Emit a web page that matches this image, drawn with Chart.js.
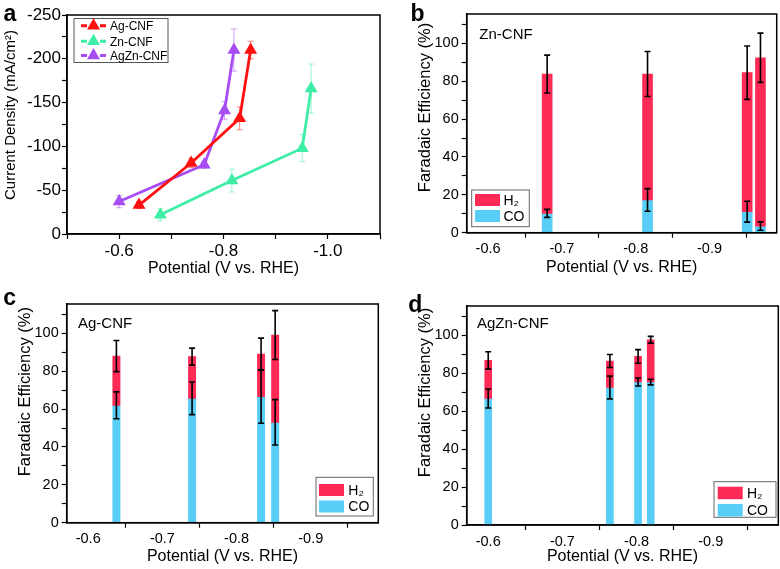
<!DOCTYPE html>
<html><head><meta charset="utf-8">
<script src="https://cdn.jsdelivr.net/npm/chart.js@4.4.0/dist/chart.umd.min.js"></script>
<style>
html,body{margin:0;padding:0;background:#fff;}
#wrap{position:relative;width:780px;height:569px;overflow:hidden;}
canvas{position:absolute;}
</style></head><body>
<div id="wrap">
<canvas id="ca" width="390" height="280" style="left:0;top:0"></canvas>
<canvas id="cb" width="390" height="280" style="left:390px;top:0"></canvas>
<canvas id="cc" width="390" height="289" style="left:0;top:280px"></canvas>
<canvas id="cd" width="390" height="289" style="left:390px;top:280px"></canvas>
</div>
<script>
// ---------- Panel a: current density ----------
const aSeries = ['Ag-CNF', 'Zn-CNF', 'AgZn-CNF'];
const agPotential = [-0.638, -0.738, -0.831, -0.852];
const agCurrent = [-33, -81, -132, -210];
const agCurrentErr = [4, 5, 13, 10];
const znPotential = [-0.679, -0.816, -0.951, -0.968];
const znCurrent = [-22, -61, -98, -166];
const znCurrentErr = [7, 13, 15.5, 28];
const agznPotential = [-0.600, -0.763, -0.802, -0.820];
const agznCurrent = [-37, -79, -141, -210];
const agznCurrentErr = [7, 4, 10, 24];
const aXTicks = [-1.1, -1.0, -0.9, -0.8, -0.7, -0.6, -0.5];
const aXLabels = [-1.0, -0.8, -0.6];
const aYTicks = [-250, -225, -200, -175, -150, -125, -100, -75, -50, -25, 0];
const aYLabels = [-250, -200, -150, -100, -50, 0];

// ---------- Panels b-d: Faradaic efficiency ----------
const feLabels = ['H₂', 'CO'];
const feXTicks = [-0.9, -0.8, -0.7, -0.6];
const feYTicks = [0, 10, 20, 30, 40, 50, 60, 70, 80, 90, 100, 110];
const feYLabels = [0, 20, 40, 60, 80, 100];

const znPot = [-0.680, -0.816, -0.951, -0.969];
const znCO = [10.2, 17.3, 11.1, 3.5];
const znCOErr = [2.1, 6, 5.5, 2.2];
const znH2 = [73.6, 66.5, 73.4, 88.9];
const znTotalErr = [10, 11.9, 14.1, 13];

const agPot = [-0.638, -0.740, -0.833, -0.852];
const agCO = [62, 65.7, 66.5, 53];
const agCOErr = [7.1, 8.6, 14, 12];
const agH2 = [26, 22, 22.6, 46.1];
const agTotalErr = [8.2, 4.5, 8.4, 12.9];

const agznPot = [-0.600, -0.764, -0.802, -0.819];
const agznCO = [66.7, 72.5, 75.4, 75.4];
const agznCOErr = [5, 6, 2.1, 1.5];
const agznH2 = [20.1, 14, 13.5, 22.3];
const agznTotalErr = [4.6, 3.4, 3.6, 1.8];

// ---------- styling ----------
const FONT = '"Liberation Sans", Arial, Helvetica, sans-serif';
Chart.defaults.font.family = FONT;
Chart.defaults.color = '#000';
const RED = '#ff1010', GREEN = '#3eeea6', PURPLE = '#a64cf2';
const H2C = '#ff2a55', COC = '#57cdf7';

const framePlugin = {
  id: 'frame',
  afterDraw(chart) {
    const {ctx, chartArea: c} = chart;
    ctx.save(); ctx.strokeStyle = '#000'; ctx.lineWidth = 1.5;
    ctx.strokeRect(c.left, c.top, c.right - c.left, c.bottom - c.top);
    ctx.restore();
  }
};
const textPlugin = {
  id: 'ptext',
  afterDraw(chart, args, opts) {
    const ctx = chart.ctx;
    (opts.items || []).forEach(t => {
      ctx.save(); ctx.fillStyle = '#000'; ctx.font = t.font;
      if (t.rotate) {
        ctx.translate(t.x, t.y); ctx.rotate(-Math.PI / 2);
        ctx.textBaseline = 'middle'; ctx.textAlign = 'center';
        ctx.fillText(t.text, 0, 0);
      } else {
        ctx.textBaseline = 'alphabetic'; ctx.textAlign = 'left';
        ctx.fillText(t.text, t.x, t.y);
      }
      ctx.restore();
    });
  }
};
const errPlugin = {
  id: 'errbars',
  beforeDatasetsDraw(chart, args, opts) { if (opts.under) drawErr(chart, opts); },
  afterDatasetsDraw(chart, args, opts) { if (!opts.under) drawErr(chart, opts); }
};
function drawErr(chart, opts) {
  const ctx = chart.ctx, xs = chart.scales.x, ys = chart.scales.y;
  (opts.sets || []).forEach(s => {
    ctx.save(); ctx.strokeStyle = s.color; ctx.lineWidth = s.width;
    s.x.forEach((xv, i) => {
      const px = xs.getPixelForValue(xv);
      const y1 = ys.getPixelForValue(s.y[i] - s.err[i]);
      const y2 = ys.getPixelForValue(s.y[i] + s.err[i]);
      ctx.beginPath();
      ctx.moveTo(px, y1); ctx.lineTo(px, y2);
      ctx.moveTo(px - s.cap, y1); ctx.lineTo(px + s.cap, y1);
      ctx.moveTo(px - s.cap, y2); ctx.lineTo(px + s.cap, y2);
      ctx.stroke();
    });
    ctx.restore();
  });
}
const lineLegendPlugin = {
  id: 'lineLegend',
  afterDraw(chart, args, opts) {
    if (!opts.box) return;
    const ctx = chart.ctx, b = opts.box;
    ctx.save();
    ctx.fillStyle = '#fff'; ctx.fillRect(b.x, b.y, b.w, b.h);
    ctx.strokeStyle = '#555'; ctx.lineWidth = 1; ctx.strokeRect(b.x, b.y, b.w, b.h);
    chart.data.datasets.forEach((ds, i) => {
      const y = opts.rows[i];
      ctx.strokeStyle = ds.borderColor; ctx.lineWidth = 3;
      ctx.beginPath(); ctx.moveTo(opts.x0, y); ctx.lineTo(opts.x0 + 6, y);
      ctx.moveTo(opts.x1 - 6, y); ctx.lineTo(opts.x1, y); ctx.stroke();
      const cx = (opts.x0 + opts.x1) / 2, r = 7.5;
      ctx.fillStyle = ds.backgroundColor; ctx.beginPath();
      ctx.moveTo(cx, y - r); ctx.lineTo(cx + r * 0.866, y + r / 2); ctx.lineTo(cx - r * 0.866, y + r / 2);
      ctx.closePath(); ctx.fill();
      ctx.fillStyle = '#000'; ctx.font = '12px ' + FONT; ctx.textBaseline = 'middle';
      ctx.fillText(ds.label, opts.tx, y + 1);
    });
    ctx.restore();
  }
};
const barLegendPlugin = {
  id: 'barLegend',
  afterDraw(chart, args, opts) {
    if (!opts.box) return;
    const ctx = chart.ctx, b = opts.box;
    ctx.save();
    ctx.fillStyle = '#fff'; ctx.fillRect(b.x, b.y, b.w, b.h);
    ctx.strokeStyle = '#666'; ctx.lineWidth = 1; ctx.strokeRect(b.x, b.y, b.w, b.h);
    opts.rows.forEach((r, i) => {
      const ds = chart.data.datasets[r.ds];
      ctx.fillStyle = ds.backgroundColor;
      ctx.fillRect(opts.sx, r.y, opts.sw, opts.sh);
      ctx.fillStyle = '#000'; ctx.font = '14px ' + FONT; ctx.textBaseline = 'middle';
      ctx.fillText(ds.label, opts.tx, r.y + opts.sh / 2 + 1);
    });
    ctx.restore();
  }
};
Chart.register(framePlugin, textPlugin, errPlugin, lineLegendPlugin, barLegendPlugin);

function fixed(vals, labels, digits) {
  return v => labels.some(l => Math.abs(l - v) < 1e-9) ? v.toFixed(digits) : '';
}
function axisCommon() {
  return {
    grid: {drawOnChartArea: false, drawTicks: true, tickLength: 5, color: '#000', tickWidth: 1.2},
    border: {display: true, color: '#000', width: 1.5}
  };
}

// ---------- Panel a ----------
function lineDs(label, xs, ys, color) {
  return {
    label, data: xs.map((x, i) => ({x, y: ys[i]})),
    borderColor: color, backgroundColor: color, borderWidth: 2.8,
    pointStyle: 'triangle', pointRadius: 7.5, pointBorderWidth: 0,
    pointBackgroundColor: color, showLine: true, tension: 0
  };
}
function fade(c) { return c + '88'; }
new Chart(document.getElementById('ca'), {
  type: 'line',
  data: {datasets: [
    lineDs(aSeries[0], agPotential, agCurrent, RED),
    lineDs(aSeries[1], znPotential, znCurrent, GREEN),
    lineDs(aSeries[2], agznPotential, agznCurrent, PURPLE)
  ]},
  options: {
    responsive: false, animation: false,
    layout: {padding: {left: 0, top: 15, right: 10, bottom: 0}},
    plugins: {
      legend: {display: false}, tooltip: {enabled: false},
      errbars: {under: true, sets: [
        {x: agPotential, y: agCurrent, err: agCurrentErr, color: fade(RED), width: 1, cap: 3},
        {x: znPotential, y: znCurrent, err: znCurrentErr, color: fade(GREEN), width: 1, cap: 3},
        {x: agznPotential, y: agznCurrent, err: agznCurrentErr, color: fade(PURPLE), width: 1, cap: 3}
      ]},
      lineLegend: {box: {x: 74, y: 18.5, w: 94, h: 44}, rows: [25.7, 41.2, 55.5], x0: 81, x1: 106, tx: 110},
      ptext: {items: [
        {text: 'a', x: 3.5, y: 21, font: 'bold 23px ' + FONT},
        {text: 'Current Density (mA/cm²)', x: 11, y: 115, rotate: true, font: '15px ' + FONT}
      ]}
    },
    scales: {
      x: Object.assign(axisCommon(), {
        type: 'linear', reverse: true, min: -1.1, max: -0.5,
        afterBuildTicks: s => { s.ticks = aXTicks.map(v => ({value: v})); },
        afterFit: s => { s.height = 46; },
        ticks: {callback: fixed(aXTicks, aXLabels, 1), font: {size: 17}, padding: 2, maxRotation: 0, autoSkip: false},
        title: {display: true, text: 'Potential (V vs. RHE)', font: {size: 16}, padding: {top: 0, bottom: 2}}
      }),
      y: Object.assign(axisCommon(), {
        type: 'linear', reverse: true, min: -250, max: 0,
        afterBuildTicks: s => { s.ticks = aYTicks.map(v => ({value: v})); },
        afterFit: s => { s.width = 67; },
        ticks: {callback: fixed(aYTicks, aYLabels, 0), font: {size: 17}, padding: 1, autoSkip: false},
        title: {display: false}
      })
    }
  }
});

// ---------- Panels b-d ----------
function feChart(id, pot, co, coErr, h2, totErr, barW, layoutPad, yWidth, xHeight, yTitlePos, xTitlePad, legend, texts) {
  const totals = co.map((c, i) => c + h2[i]);
  texts = texts.concat([{text: 'Faradaic Efficiency (%)', x: yTitlePos[0], y: yTitlePos[1], rotate: true, font: '16.5px ' + FONT}]);
  new Chart(document.getElementById(id), {
    type: 'bar',
    data: {datasets: [
      {label: feLabels[0], data: pot.map((x, i) => ({x, y: [co[i], totals[i]]})), backgroundColor: H2C, barThickness: barW, grouped: false},
      {label: feLabels[1], data: pot.map((x, i) => ({x, y: co[i]})), backgroundColor: COC, barThickness: barW, grouped: false}
    ]},
    options: {
      responsive: false, animation: false,
      layout: {padding: layoutPad},
      plugins: {
        legend: {display: false}, tooltip: {enabled: false},
        errbars: {under: false, sets: [
          {x: pot, y: co, err: coErr, color: '#000', width: 1.6, cap: 3},
          {x: pot, y: totals, err: totErr, color: '#000', width: 1.6, cap: 3}
        ]},
        barLegend: legend,
        ptext: {items: texts}
      },
      scales: {
        x: Object.assign(axisCommon(), {
          type: 'linear', min: -0.991, max: -0.571, reverse: true, offset: false,
          afterBuildTicks: s => { s.ticks = feXTicks.map(v => ({value: v})); },
          afterFit: s => { s.height = xHeight; },
          ticks: {callback: v => v.toFixed(1), font: {size: 14.5}, padding: 3, maxRotation: 0, autoSkip: false},
          title: {display: true, text: 'Potential (V vs. RHE)', font: {size: 16}, padding: {top: 0, bottom: xTitlePad}}
        }),
        y: Object.assign(axisCommon(), {
          type: 'linear', min: 0, max: 115.5,
          afterBuildTicks: s => { s.ticks = feYTicks.map(v => ({value: v})); },
          afterFit: s => { s.width = yWidth; },
          ticks: {callback: fixed(feYTicks, feYLabels, 0), font: {size: 14.5}, padding: 3, autoSkip: false},
          title: {display: false}
        })
      }
    }
  });
}
feChart('cb', znPot, znCO, znCOErr, znH2, znTotalErr, 10,
  {left: 0, top: 14, right: 3.3, bottom: 0}, 76.7, 47.3, [35.5, 107.5], 2.4,
  {box: {x: 81.7, y: 190, w: 57.6, h: 36.7}, sx: 85, sw: 25, sh: 12, tx: 113.5, rows: [{ds: 0, y: 194}, {ds: 1, y: 210}]},
  [{text: 'b', x: 20.5, y: 20.7, font: 'bold 23px ' + FONT}, {text: 'Zn-CNF', x: 89.3, y: 39.3, font: '15px ' + FONT}]);
feChart('cc', agPot, agCO, agCOErr, agH2, agTotalErr, 7.3,
  {left: 0, top: 24, right: 11.7, bottom: 0}, 66.7, 46.3, [25.5, 111.7], 2.7,
  {box: {x: 316, y: 197.3, w: 57.3, h: 38.7}, sx: 319, sw: 25, sh: 12, tx: 348.3, rows: [{ds: 0, y: 204}, {ds: 1, y: 220.5}]},
  [{text: 'c', x: 3.3, y: 24.5, font: 'bold 23px ' + FONT}, {text: 'Ag-CNF', x: 78, y: 48.3, font: '15px ' + FONT}]);
feChart('cd', agznPot, agznCO, agznCOErr, agznH2, agznTotalErr, 7,
  {left: 0, top: 26, right: 1.7, bottom: 0}, 76.7, 44, [35, 112.5], 2.7,
  {box: {x: 324, y: 201.7, w: 62, h: 35.6}, sx: 327.7, sw: 25, sh: 12.5, tx: 357, rows: [{ds: 0, y: 206.7}, {ds: 1, y: 224}]},
  [{text: 'd', x: 18.3, y: 32, font: 'bold 23px ' + FONT}, {text: 'AgZn-CNF', x: 87, y: 48.3, font: '15px ' + FONT}]);
</script>
</body></html>
